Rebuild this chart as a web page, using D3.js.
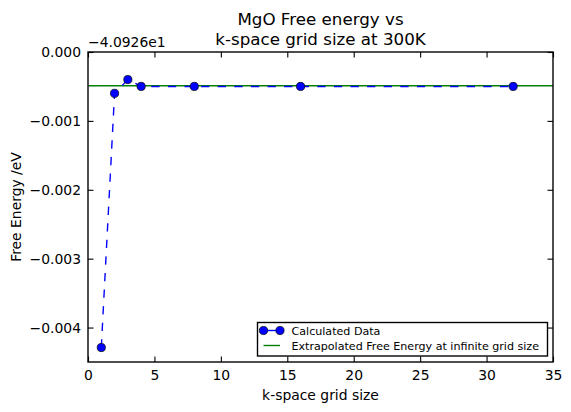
<!DOCTYPE html>
<html><head><meta charset="utf-8">
<script src="https://cdn.jsdelivr.net/npm/d3@7"></script>
<style>body{margin:0;background:#fff}svg{display:block}text{font-family:"DejaVu Sans",sans-serif}</style>
</head><body><svg id="c" width="571" height="412"></svg>
<script>
const gridSizes = [1, 2, 3, 4, 8, 16, 32];
const freeEnergy = [-0.00429, -0.0006, -0.0004, -0.0005, -0.0005, -0.0005, -0.0005];
const extrapolated = -0.00049;
const xTicks = [0, 5, 10, 15, 20, 25, 30, 35];
const yTicks = [0, -0.001, -0.002, -0.003, -0.004];
const offsetLabel = "\u22124.0926e1";
const titleLines = ["MgO Free energy vs", "k-space grid size at 300K"];
const legendLabels = ["Calculated Data", "Extrapolated Free Energy at infinite grid size"];

const svg = d3.select("#c");
const L = 88, R = 553, T = 52, B = 362;
const FS = 13.9;
const x = d3.scaleLinear().domain([0, 35]).range([L, R]);
const y = d3.scaleLinear().domain([-0.0045, 0]).range([B, T]);

// green line
svg.append("line").attr("x1", L).attr("x2", R).attr("y1", y(extrapolated)).attr("y2", y(extrapolated))
  .attr("stroke", "#008000").attr("stroke-width", 1.39);

// data line
const line = d3.line().x((d, i) => x(gridSizes[i])).y(d => y(d));
svg.append("path").datum(freeEnergy).attr("d", line).attr("fill", "none")
  .attr("stroke", "#0000ff").attr("stroke-width", 1.39).attr("stroke-dasharray", "8.3,8.3");
svg.selectAll("circle.pt").data(freeEnergy).enter().append("circle").attr("class", "pt")
  .attr("cx", (d, i) => x(gridSizes[i])).attr("cy", d => y(d)).attr("r", 4.1)
  .attr("fill", "#0000ff").attr("stroke", "#000").attr("stroke-width", 0.7);

// frame
svg.append("rect").attr("x", L).attr("y", T).attr("width", R - L).attr("height", B - T)
  .attr("fill", "none").attr("stroke", "#000").attr("stroke-width", 1.39);

// axes
const fmtY = d => d === 0 ? "0.000" : d3.format(".3f")(d).replace("-", "\u2212");
const xb = svg.append("g").attr("transform", `translate(0,${B})`)
  .call(d3.axisBottom(x).tickValues(xTicks).tickSizeInner(-5.5).tickSizeOuter(0).tickPadding(8).tickFormat(d3.format("d")));
const xt = svg.append("g").attr("transform", `translate(0,${T})`)
  .call(d3.axisTop(x).tickValues(xTicks).tickSizeInner(-5.5).tickSizeOuter(0).tickFormat(""));
const yl = svg.append("g").attr("transform", `translate(${L},0)`)
  .call(d3.axisLeft(y).tickValues(yTicks).tickSizeInner(-5.5).tickSizeOuter(0).tickPadding(7).tickFormat(fmtY));
const yr = svg.append("g").attr("transform", `translate(${R},0)`)
  .call(d3.axisRight(y).tickValues(yTicks).tickSizeInner(-5.5).tickSizeOuter(0).tickFormat(""));
[xb, xt, yl, yr].forEach(g => {
  g.select(".domain").remove();
  g.selectAll("line").attr("stroke", "#000").attr("stroke-width", 1.1);
  g.selectAll("text").attr("fill", "#000").style("font-size", FS + "px").style("font-family", "DejaVu Sans");
});

// offset text
svg.append("text").attr("x", L).attr("y", 46.5).attr("font-size", FS).text(offsetLabel);

// title
svg.append("text").attr("x", (L + R) / 2).attr("y", 25).attr("text-anchor", "middle").attr("font-size", 16.7).text(titleLines[0]);
svg.append("text").attr("x", (L + R) / 2).attr("y", 45).attr("text-anchor", "middle").attr("font-size", 16.7).text(titleLines[1]);

// axis labels
svg.append("text").attr("x", (L + R) / 2).attr("y", 400).attr("text-anchor", "middle").attr("font-size", FS).text("k-space grid size");
svg.append("text").attr("transform", `translate(20.5,${(T + B) / 2}) rotate(-90)`).attr("text-anchor", "middle").attr("font-size", FS).text("Free Energy /eV");

// legend
const lg = svg.append("g");
lg.append("rect").attr("x", 257.5).attr("y", 322.5).attr("width", 290).attr("height", 33.5)
  .attr("fill", "#fff").attr("stroke", "#000").attr("stroke-width", 1.39);
const r1 = 330.5, r2 = 345.5;
lg.append("line").attr("x1", 263.5).attr("x2", 280).attr("y1", r1).attr("y2", r1).attr("stroke", "#0000ff").attr("stroke-width", 1.39);
[263.5, 280].forEach(cx => lg.append("circle").attr("cx", cx).attr("cy", r1).attr("r", 4.1).attr("fill", "#0000ff").attr("stroke", "#000").attr("stroke-width", 0.7));
lg.append("line").attr("x1", 263.5).attr("x2", 280).attr("y1", r2).attr("y2", r2).attr("stroke", "#008000").attr("stroke-width", 1.39);
lg.append("text").attr("x", 291.5).attr("y", r1 + 4).attr("font-size", 11.1).text(legendLabels[0]);
lg.append("text").attr("x", 291.5).attr("y", r2 + 4).attr("font-size", 11.1).text(legendLabels[1]);
</script></body></html>
